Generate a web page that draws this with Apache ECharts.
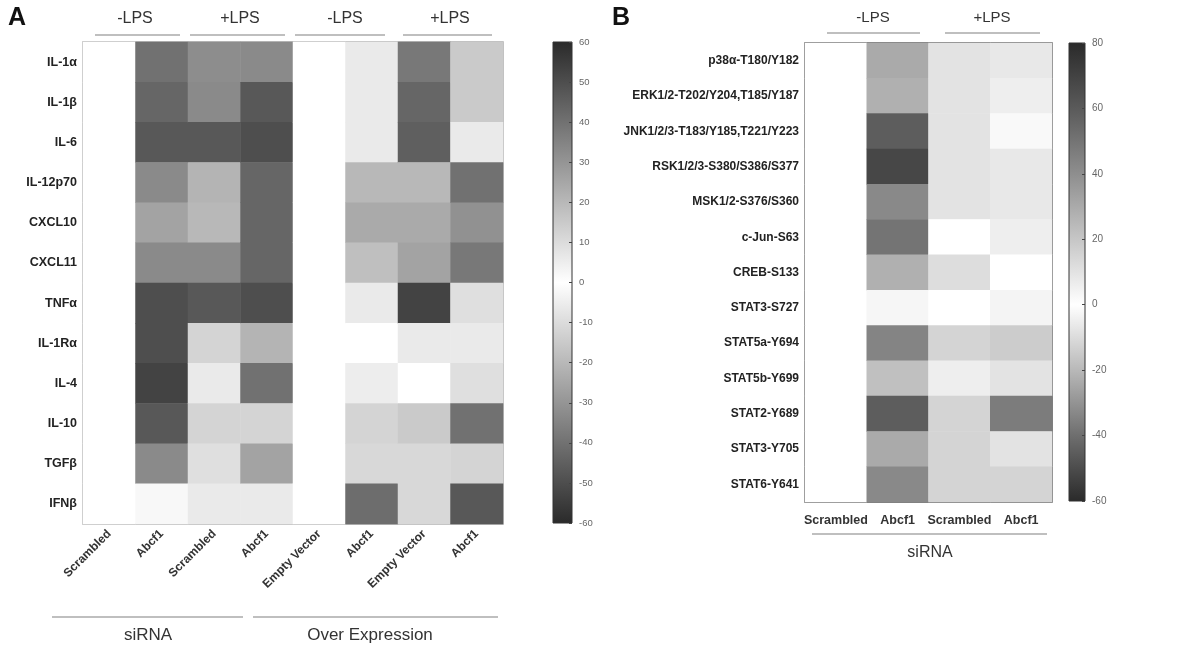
<!DOCTYPE html>
<html>
<head>
<meta charset="utf-8">
<script src="https://cdn.jsdelivr.net/npm/echarts@6/dist/echarts.min.js"></script>
<style>
  html, body { margin: 0; padding: 0; background: #fff; }
  #main { width: 1198px; height: 651px; }
</style>
</head>
<body>
<div id="main"></div>
<script>
// ---- panel A: cytokines ----
var aRows = ['IL-1α', 'IL-1β', 'IL-6', 'IL-12p70', 'CXCL10', 'CXCL11', 'TNFα', 'IL-1Rα', 'IL-4', 'IL-10', 'TGFβ', 'IFNβ'];
var aCols = ['Scrambled', 'Abcf1', 'Scrambled', 'Abcf1', 'Empty Vector', 'Abcf1', 'Empty Vector', 'Abcf1'];
var aSiScrNeg = [0, 0, 0, 0, 0, 0, 0, 0, 0, 0, 0, 0];
var aSiAbcNeg = [40, 43, 47, 33, 26, 33, 50, 50, 53, 47, 33, 2];
var aSiScrPos = [32, 33, 47, 21, 20, 33, 47, 12, 6, 12, 9, 6];
var aSiAbcPos = [33, 47, 50, 43, 43, 43, 50, 21, 40, 12, 26, 6];
var aOeEvNeg = [0, 0, 0, 0, 0, 0, 0, 0, 0, 0, 0, 0];
var aOeAbcNeg = [6, 6, 6, 20, 24, 18, 6, 0, 5, 12, 11, 41];
var aOeEvPos = [38, 43, 45, 20, 24, 26, 53, 6, 0, 15, 11, 11];
var aOeAbcPos = [15, 15, 6, 40, 31, 38, 9, 6, 9, 40, 12, 47];
var aScaleMin = -60, aScaleMax = 60, aScaleStep = 10;

// ---- panel B: phospho-kinases ----
var bRows = ['p38α-T180/Y182', 'ERK1/2-T202/Y204,T185/Y187', 'JNK1/2/3-T183/Y185,T221/Y223', 'RSK1/2/3-S380/S386/S377',
  'MSK1/2-S376/S360', 'c-Jun-S63', 'CREB-S133', 'STAT3-S727', 'STAT5a-Y694', 'STAT5b-Y699', 'STAT2-Y689', 'STAT3-Y705', 'STAT6-Y641'];
var bCols = ['Scrambled', 'Abcf1', 'Scrambled', 'Abcf1'];
var bScrNeg = [0, 0, 0, 0, 0, 0, 0, 0, 0, 0, 0, 0, 0];
var bAbcNeg = [30, 28, 59, 68, 42, 50, 28, 3, 44, 22, 59, 30, 42];
var bScrPos = [10, 10, 10, 10, 10, 0, 12, 0, 15, 6, 15, 15, 15];
var bAbcPos = [8, 6, 2, 8, 8, 6, 0, 4, 18, 10, 47, 10, 15];
var bScaleMin = -60, bScaleMax = 80, bScaleStep = 20;

// gray diverging palettes (low -> high)
var aColors = ['#2a2a2a', '#ffffff', '#2a2a2a'];
var bColors = ['#2a2a2a', '#6e6e6e', '#b8b8b8', '#ffffff', '#c6c6c6', '#8e8e8e', '#5a5a5a', '#2a2a2a'];

function toCells(cols) {
  var out = [];
  cols.forEach(function (col, x) {
    col.forEach(function (v, y) { out.push([x, y, v]); });
  });
  return out;
}
// colour bar gradient: top = max
function barGradient(colors) {
  var stops = colors.slice().reverse().map(function (c, i, arr) {
    return { offset: i / (arr.length - 1), color: c };
  });
  return new echarts.graphic.LinearGradient(0, 0, 0, 1, stops);
}

var FONT = 'Liberation Sans, Arial, sans-serif';
var chart = echarts.init(document.getElementById('main'));

function txt(x, y, s, size, weight, color) {
  return { type: 'text', x: x, y: y, style: { text: s, fontSize: size, fontWeight: weight || 'normal',
    fontFamily: FONT, fill: color || '#333', align: 'center', verticalAlign: 'middle' } };
}
function hline(x1, x2, y) {
  return { type: 'line', shape: { x1: x1, y1: y, x2: x2, y2: y }, style: { stroke: '#aaa', lineWidth: 1.5 } };
}

var barAxis = {
  axisLine: { show: false, onZero: false }, splitLine: { show: false },
  axisTick: { show: true, inside: true, length: 3, lineStyle: { color: '#444' } }
};

var option = {
  backgroundColor: '#fff',
  animation: false,
  grid: [
    { left: 83, top: 42, width: 420, height: 482, show: true, borderColor: '#aaa', borderWidth: 1.5, backgroundColor: 'transparent' },
    { left: 553, top: 42, width: 19, height: 481, show: true, borderColor: '#333', borderWidth: 1, backgroundColor: barGradient(aColors) },
    { left: 805, top: 43, width: 247, height: 459, show: true, borderColor: '#555', borderWidth: 1.5, backgroundColor: 'transparent' },
    { left: 1069, top: 43, width: 16, height: 458, show: true, borderColor: '#333', borderWidth: 1, backgroundColor: barGradient(bColors) }
  ],
  xAxis: [
    { gridIndex: 0, type: 'category', data: aCols,
      axisLine: { show: false }, axisTick: { show: false },
      axisLabel: { interval: 0, rotate: 45, margin: 8, fontSize: 12, fontWeight: 'bold', color: '#333', fontFamily: FONT } },
    { gridIndex: 1, type: 'value', show: false, min: 0, max: 1 },
    { gridIndex: 2, type: 'category', data: bCols,
      axisLine: { show: false }, axisTick: { show: false },
      axisLabel: { interval: 0, margin: 12, fontSize: 12.5, fontWeight: 'bold', color: '#333', fontFamily: FONT } },
    { gridIndex: 3, type: 'value', show: false, min: 0, max: 1 }
  ],
  yAxis: [
    { gridIndex: 0, type: 'category', data: aRows, inverse: true,
      axisLine: { show: false }, axisTick: { show: false },
      axisLabel: { margin: 6, fontSize: 12.5, fontWeight: 'bold', color: '#222', fontFamily: FONT } },
    Object.assign({ gridIndex: 1, type: 'value', position: 'right', min: aScaleMin, max: aScaleMax, interval: aScaleStep,
      axisLabel: { margin: 7, fontSize: 9.5, color: '#666', fontFamily: FONT } }, barAxis),
    { gridIndex: 2, type: 'category', data: bRows, inverse: true,
      axisLine: { show: false }, axisTick: { show: false },
      axisLabel: { margin: 6, fontSize: 12, fontWeight: 'bold', color: '#222', fontFamily: FONT } },
    Object.assign({ gridIndex: 3, type: 'value', position: 'right', min: bScaleMin, max: bScaleMax, interval: bScaleStep,
      axisLabel: { margin: 7, fontSize: 10, color: '#666', fontFamily: FONT } }, barAxis)
  ],
  visualMap: [
    { show: false, seriesIndex: 0, min: aScaleMin, max: aScaleMax, inRange: { color: aColors } },
    { show: false, seriesIndex: 1, min: bScaleMin, max: bScaleMax, inRange: { color: bColors } }
  ],
  series: [
    { type: 'heatmap', xAxisIndex: 0, yAxisIndex: 0,
      data: toCells([aSiScrNeg, aSiAbcNeg, aSiScrPos, aSiAbcPos, aOeEvNeg, aOeAbcNeg, aOeEvPos, aOeAbcPos]),
      itemStyle: { borderWidth: 0 } },
    { type: 'heatmap', xAxisIndex: 2, yAxisIndex: 2,
      data: toCells([bScrNeg, bAbcNeg, bScrPos, bAbcPos]),
      itemStyle: { borderWidth: 0 } }
  ],
  graphic: [
    { type: 'text', x: 8, y: 6, style: { text: 'A', fontSize: 25, fontWeight: 'bold', fontFamily: FONT, fill: '#111' } },
    { type: 'text', x: 612, y: 6, style: { text: 'B', fontSize: 25, fontWeight: 'bold', fontFamily: FONT, fill: '#111' } },
    // panel A group headers
    txt(135, 19, '-LPS', 16), hline(95, 180, 35),
    txt(240, 19, '+LPS', 16), hline(190, 285, 35),
    txt(345, 19, '-LPS', 16), hline(295, 385, 35),
    txt(450, 19, '+LPS', 16), hline(403, 492, 35),
    hline(52, 243, 617), txt(148, 635, 'siRNA', 17),
    hline(253, 498, 617), txt(370, 635, 'Over Expression', 17),
    // panel B group headers
    txt(873, 18, '-LPS', 15), hline(827, 920, 33),
    txt(992, 18, '+LPS', 15), hline(945, 1040, 33),
    hline(812, 1047, 534), txt(930, 553, 'siRNA', 16)
  ]
};
chart.setOption(option);
</script>
</body>
</html>
